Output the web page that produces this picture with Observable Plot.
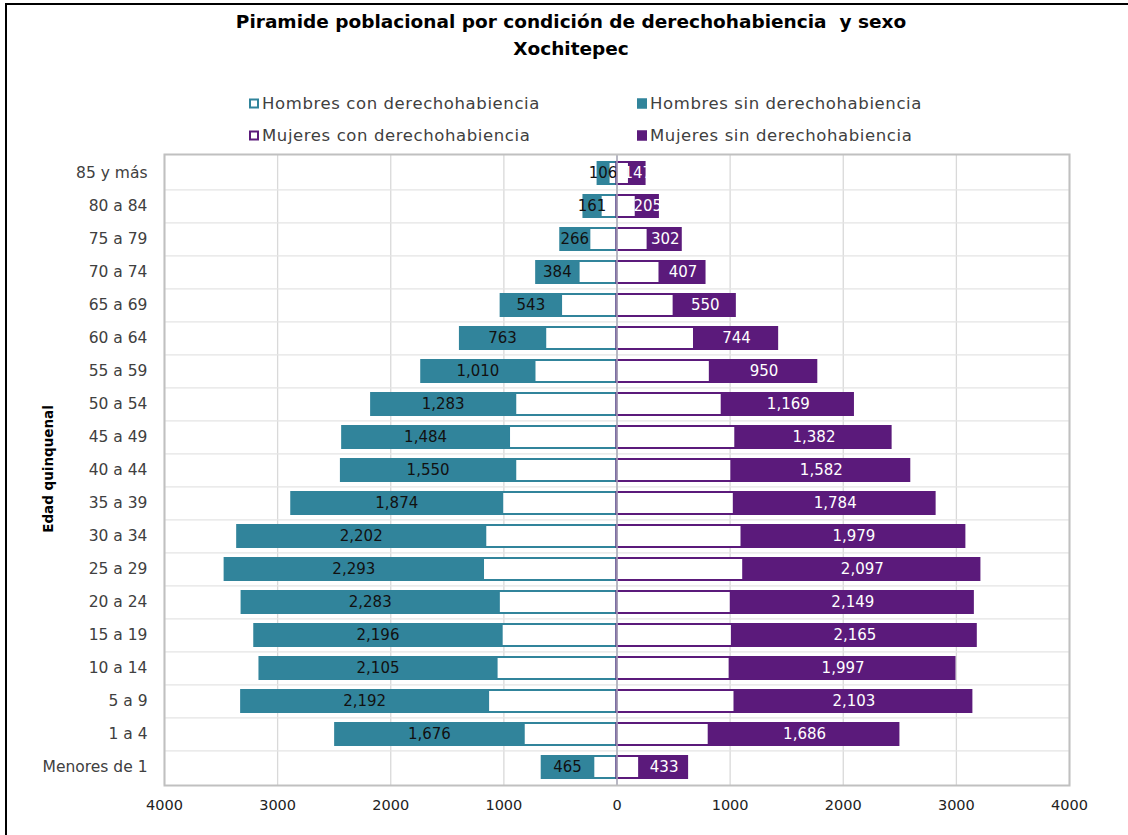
<!DOCTYPE html>
<html><head><meta charset="utf-8">
<script src="https://cdn.jsdelivr.net/npm/d3@7"></script>
<script src="https://cdn.jsdelivr.net/npm/@observablehq/plot@0.6"></script>
<style>
body{margin:0;background:#fff;font-family:"DejaVu Sans",sans-serif;}
#wrap{position:relative;width:1128px;height:835px;overflow:hidden;background:#fff;}
#frame{position:absolute;left:5px;top:3px;width:1140px;height:850px;border-left:2px solid #000;border-top:2px solid #000;}
#title{position:absolute;left:0;width:1142px;top:8px;text-align:center;font-weight:bold;font-size:18.5px;line-height:27px;color:#000;white-space:pre;}
.leg{position:absolute;font-size:16.5px;letter-spacing:0.6px;color:#404040;display:flex;align-items:center;white-space:nowrap;transform:translateY(-50%);}
.sw{width:10px;height:10px;margin-right:3px;box-sizing:border-box;}
#ylab{position:absolute;left:48px;top:469px;transform:translate(-50%,-50%) rotate(-90deg);font-weight:bold;font-size:13.5px;white-space:nowrap;color:#000;}
#chart{position:absolute;left:0;top:140px;}
</style>
</head><body>
<div id="wrap">
  <div id="frame"></div>
  <div id="title"></div>
  <div id="legend"></div>
  <div id="ylab"></div>
  <div id="chart"></div>
</div>
<script>
const titulo = "Piramide poblacional por condición de derechohabiencia  y sexo\nXochitepec";
const ejeY = "Edad quinquenal";
const edades = ["85 y más","80 a 84","75 a 79","70 a 74","65 a 69","60 a 64","55 a 59","50 a 54","45 a 49","40 a 44","35 a 39","30 a 34","25 a 29","20 a 24","15 a 19","10 a 14","5 a 9","1 a 4","Menores de 1"];
const hombresCon = [70,140,240,335,490,630,725,895,950,895,1010,1160,1180,1040,1015,1060,1135,820,205];
const hombresSin = [106,161,266,384,543,763,1010,1283,1484,1550,1874,2202,2293,2283,2196,2105,2192,1676,465];
const mujeresCon = [110,170,275,380,505,685,825,930,1050,1015,1037,1105,1120,1010,1020,1000,1043,815,200];
const mujeresSin = [147,205,302,407,550,744,950,1169,1382,1582,1784,1979,2097,2149,2165,1997,2103,1686,433];
const xTicks = [-4000,-3000,-2000,-1000,0,1000,2000,3000,4000];
const series = ["Hombres con derechohabiencia","Hombres sin derechohabiencia","Mujeres con derechohabiencia","Mujeres sin derechohabiencia"];
const teal = "#31849b", purple = "#5b1a7b";

document.getElementById("title").textContent = titulo;
document.getElementById("ylab").textContent = ejeY;

// legend
const legPos = [[249,103],[637,103],[249,135],[637,135]];
const legSty = [
  {bg:"#fff", bd:teal},{bg:teal, bd:teal},{bg:"#fff", bd:purple},{bg:purple, bd:purple}
];
const leg = document.getElementById("legend");
series.forEach((s,i)=>{
  const d = document.createElement("div");
  d.className="leg"; d.style.left=legPos[i][0]+"px"; d.style.top=legPos[i][1]+"px";
  const sw = document.createElement("span"); sw.className="sw";
  sw.style.background=legSty[i].bg; sw.style.border="2px solid "+legSty[i].bd;
  const t = document.createElement("span"); t.textContent=s;
  d.appendChild(sw); d.appendChild(t); leg.appendChild(d);
});

const rows = edades.map((e,i)=>({edad:e, hc:hombresCon[i], hs:hombresSin[i], mc:mujeresCon[i], ms:mujeresSin[i]}));
const fmt = d3.format(",");
const step = (695-14-50)/edades.length;

const chart = Plot.plot({
  width:1128, height:695,
  marginTop:14, marginBottom:50, marginLeft:164, marginRight:59,
  x:{domain:[-4000,4000], label:null},
  y:{domain:edades, paddingInner:0.28, paddingOuter:0.14, label:null},
  style:{fontFamily:"DejaVu Sans, sans-serif", fontSize:"15px", color:"#404040", background:"transparent"},
  marks:[
    Plot.ruleX(xTicks, {stroke:"#d9d9d9", strokeWidth:1.3}),
    Plot.ruleY(edades.slice(1), {y:d=>d, dy:-step/2, stroke:"#e4e4e4", strokeWidth:1.3}),
    // men
    Plot.barX(rows, {y:"edad", x1:0, x2:d=>-d.hc, fill:"#fff", stroke:teal, strokeWidth:2, insetTop:1, insetBottom:1}),
    Plot.barX(rows, {y:"edad", x1:d=>-d.hc, x2:d=>-(d.hc+d.hs), fill:teal}),
    // women
    Plot.barX(rows, {y:"edad", x1:0, x2:d=>d.mc, fill:"#fff", stroke:purple, strokeWidth:2, insetTop:1, insetBottom:1}),
    Plot.barX(rows, {y:"edad", x1:d=>d.mc, x2:d=>d.mc+d.ms, fill:purple}),
    Plot.text(rows, {y:"edad", x:d=>-(d.hc+d.hs/2), text:d=>fmt(d.hs), fill:"#111", fontSize:15}),
    Plot.text(rows, {y:"edad", x:d=>d.mc+d.ms/2, text:d=>fmt(d.ms), fill:"#fff", fontSize:15}),
    Plot.ruleX([0], {stroke:"#a8a8b8", strokeWidth:1.5}),
    Plot.frame({stroke:"#c0c0c0", strokeWidth:2}),
    Plot.axisX({ticks:xTicks, tickFormat:d=>String(Math.abs(d)), tickSize:0, tickPadding:14, fontSize:14.5, color:"#222"}),
    Plot.axisY({tickSize:0, tickPadding:17, fontSize:15.5})
  ]
});
document.getElementById("chart").appendChild(chart);
</script>
</body></html>
